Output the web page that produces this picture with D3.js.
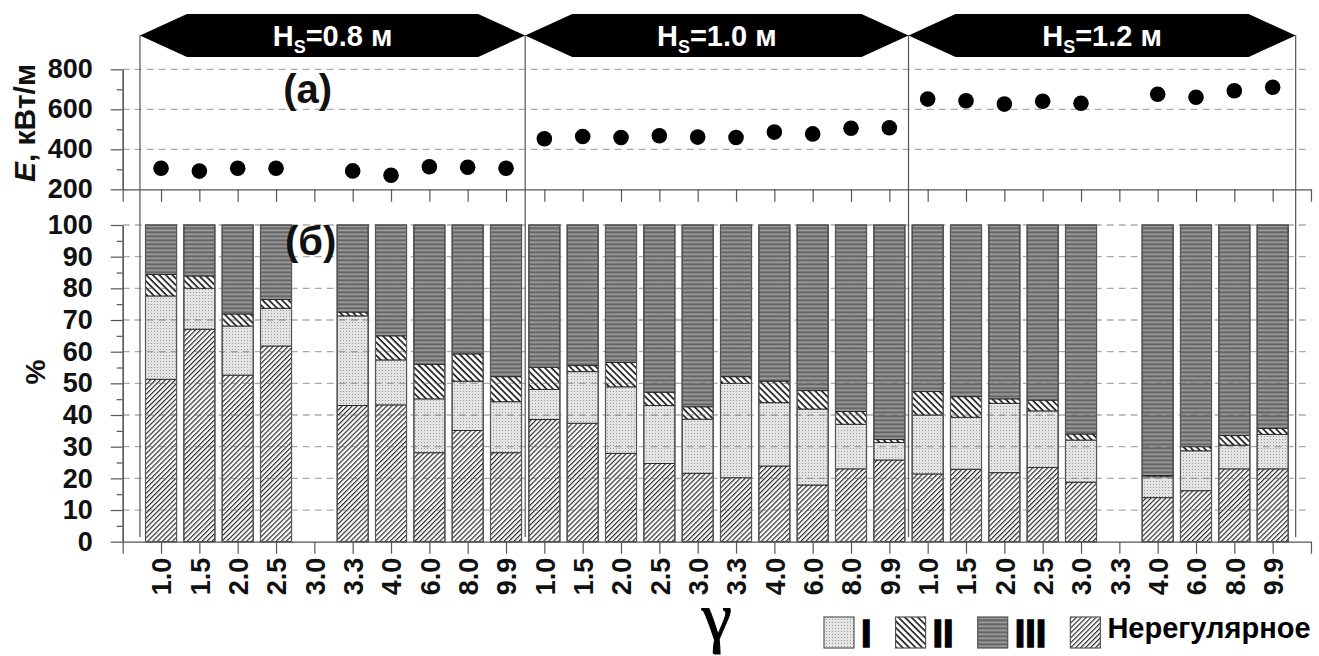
<!DOCTYPE html>
<html>
<head>
<meta charset="utf-8">
<script src="https://cdn.jsdelivr.net/npm/d3@7"></script>
<style>
  body { margin: 0; background: #fff; }
  svg text { font-family: "Liberation Sans", Arial, sans-serif; font-weight: bold; }
</style>
</head>
<body>
<svg id="chart" width="1319" height="656"></svg>
<script>
// gamma values inside every wave-height group
var gammaLabels = ["1.0", "1.5", "2.0", "2.5", "3.0", "3.3", "4.0", "6.0", "8.0", "9.9"];
var waveHeights = ["0.8", "1.0", "1.2"];

// (a) wave power, kW/m (null = no run)
var energy = [
    305, 291, 305, 305, null, 292, 270, 313, 310, 305,
    453, 464, 459, 468, 461, 459, 486, 477, 505, 508,
    651, 643, 626, 640, 630, null, 675, 660, 693, 710
];

// (б) share of breaker types, %
var irregularPct = [
    51.3, 67.1, 52.6, 61.8, null, 43.0, 43.2, 28.1, 35.1, 28.1,
    38.6, 37.4, 27.9, 24.7, 21.6, 20.2, 23.9, 17.9, 23.0, 25.8,
    21.4, 22.9, 21.8, 23.4, 18.8, null, 13.9, 16.1, 23.0, 23.0
];
var typeIPct = [
    26.3, 12.9, 15.5, 11.9, null, 28.3, 14.2, 17.0, 15.6, 16.1,
    9.5, 16.3, 21.0, 18.3, 17.1, 29.8, 20.0, 24.0, 14.1, 5.5,
    18.6, 16.4, 21.9, 17.9, 13.3, null, 6.6, 12.6, 7.5, 10.9
];
var typeIIPct = [
    6.8, 3.9, 3.8, 2.8, null, 1.2, 7.6, 10.9, 8.6, 7.9,
    7.0, 1.9, 7.7, 4.2, 3.9, 2.1, 6.8, 5.8, 4.0, 1.0,
    7.4, 6.5, 1.4, 3.4, 1.9, null, 0.4, 1.3, 3.0, 1.9
];
var typeIIIPct = [
    15.6, 16.1, 28.1, 23.5, null, 27.5, 35.0, 44.0, 40.7, 47.9,
    44.9, 44.4, 43.4, 52.8, 57.4, 47.9, 49.3, 52.3, 58.9, 67.7,
    52.6, 54.2, 54.9, 55.3, 66.0, null, 79.1, 70.0, 66.5, 64.2
];

var energyTicks = [200, 400, 600, 800];
var energyMinor = [300, 500, 700];
var pctTicks = [0, 10, 20, 30, 40, 50, 60, 70, 80, 90, 100];
var pctMinor = [5, 15, 25, 35, 45, 55, 65, 75, 85, 95];
var legendLabels = ["I", "II", "III", "Нерегулярное"];

var svg = d3.select("#chart");
var n = gammaLabels.length * waveHeights.length;

// scales
var xLin = d3.scaleLinear().domain([-1, n]).range([122.7, 1311]);
var xBand = d3.scaleBand().domain(d3.range(n))
    .range([xLin(-0.5), xLin(n - 0.5)])
    .paddingInner(0.19).paddingOuter(0.095);
var yE = d3.scaleLinear().domain([200, 800]).range([189.3, 69.3]);
var yP = d3.scaleLinear().domain([0, 100]).range([541.7, 225]);

// fill patterns
var defs = svg.append("defs");

var pIrr = defs.append("pattern").attr("id", "hatchIrr")
    .attr("patternUnits", "userSpaceOnUse").attr("width", 3.5).attr("height", 3.5)
    .attr("patternTransform", "rotate(45)");
pIrr.append("rect").attr("width", 3.5).attr("height", 3.5).attr("fill", "#fff");
pIrr.append("line").attr("x1", 0.6).attr("x2", 0.6).attr("y1", 0).attr("y2", 3.5)
    .attr("stroke", "#1a1a1a").attr("stroke-width", 1.1);

var pII = defs.append("pattern").attr("id", "hatchII")
    .attr("patternUnits", "userSpaceOnUse").attr("width", 4.6).attr("height", 4.6)
    .attr("patternTransform", "rotate(-45)");
pII.append("rect").attr("width", 4.6).attr("height", 4.6).attr("fill", "#fff");
pII.append("line").attr("x1", 1).attr("x2", 1).attr("y1", 0).attr("y2", 4.6)
    .attr("stroke", "#111").attr("stroke-width", 1.6);

var pI = defs.append("pattern").attr("id", "dotsI")
    .attr("patternUnits", "userSpaceOnUse").attr("width", 3).attr("height", 3);
pI.append("rect").attr("width", 3).attr("height", 3).attr("fill", "#e4e4e4");
pI.append("rect").attr("x", 1).attr("y", 1).attr("width", 1).attr("height", 1).attr("fill", "#999");

var pIII = defs.append("pattern").attr("id", "stripesIII")
    .attr("patternUnits", "userSpaceOnUse").attr("width", 4).attr("height", 4);
["#666", "#868686", "#999", "#777"].forEach(function (c, k) {
    pIII.append("rect").attr("x", 0).attr("y", k).attr("width", 4).attr("height", 1).attr("fill", c);
});

var fills = { irr: "url(#hatchIrr)", I: "url(#dotsI)", II: "url(#hatchII)", III: "url(#stripesIII)" };

// group separators (vertical lines) and banners
var sepX = [xLin(-0.55), xLin(9.5), xLin(19.5), xLin(29.6)];
svg.append("g").selectAll("line").data(sepX).enter().append("line")
    .attr("x1", function (d) { return d; }).attr("x2", function (d) { return d; })
    .attr("y1", 35).attr("y2", 537)
    .attr("stroke", "#555").attr("stroke-width", 1.2);

var notch = 47;
var banners = svg.append("g").selectAll("g").data(waveHeights).enter().append("g");
banners.append("polygon")
    .attr("points", function (d, i) {
        var a = sepX[i], b = sepX[i + 1];
        return [[a, 35.5], [a + notch, 14], [b - notch, 14], [b, 35.5], [b - notch, 57], [a + notch, 57]].join(" ");
    })
    .attr("fill", "#000");
var bText = banners.append("text")
    .attr("x", function (d, i) { return (sepX[i] + sepX[i + 1]) / 2; })
    .attr("y", 46)
    .attr("text-anchor", "middle")
    .attr("fill", "#fff")
    .style("font-size", "29px");
bText.append("tspan").text("H");
bText.append("tspan").attr("dy", 7).style("font-size", "18px").text("S");
bText.append("tspan").attr("dy", -7).text(function (d) { return "=" + d + " м"; });

// gridlines
var grid = svg.append("g");

// stacked bars
var rows = d3.range(n).map(function (i) {
    return { idx: i, irr: irregularPct[i] || 0, I: typeIPct[i] || 0, II: typeIIPct[i] || 0, III: typeIIIPct[i] || 0 };
});
var series = d3.stack().keys(["irr", "I", "II", "III"])(rows);
var present = rows.filter(function (r) { return irregularPct[r.idx] != null; });

series.forEach(function (s) {
    svg.append("g").selectAll("rect")
        .data(s.filter(function (d) { return irregularPct[d.data.idx] != null && d[1] > d[0]; }))
        .enter().append("rect")
        .attr("x", function (d) { return xBand(d.data.idx); })
        .attr("width", xBand.bandwidth())
        .attr("y", function (d) { return yP(d[1]); })
        .attr("height", function (d) { return yP(d[0]) - yP(d[1]); })
        .attr("fill", fills[s.key])
        .attr("stroke", "#222").attr("stroke-width", 0.9);
});
svg.append("g").selectAll("rect").data(present).enter().append("rect")
    .attr("x", function (d) { return xBand(d.idx); })
    .attr("width", xBand.bandwidth())
    .attr("y", yP(100))
    .attr("height", yP(0) - yP(100))
    .attr("fill", "none").attr("stroke", "#555").attr("stroke-width", 1.2);

// dashed gridlines drawn over the bars
grid.raise();
grid.selectAll("line.e").data(energyTicks.slice(1)).enter().append("line")
    .attr("x1", xLin(-1)).attr("x2", xLin(n))
    .attr("y1", function (d) { return yE(d); }).attr("y2", function (d) { return yE(d); });
grid.selectAll("line.p").data(pctTicks.slice(1)).enter().append("line")
    .attr("x1", xLin(-1)).attr("x2", xLin(n))
    .attr("y1", function (d) { return yP(d); }).attr("y2", function (d) { return yP(d); });
grid.selectAll("line").attr("stroke", "#666").attr("stroke-opacity", 0.55)
    .attr("stroke-width", 1.3).attr("stroke-dasharray", "7,5");

// (a) energy dots
svg.append("g").selectAll("circle")
    .data(d3.range(n).filter(function (i) { return energy[i] != null; }))
    .enter().append("circle")
    .attr("cx", function (i) { return xLin(i); })
    .attr("cy", function (i) { return yE(energy[i]); })
    .attr("r", 7.8)
    .attr("fill", "#000");

// axes
function styleAxis(g) {
    g.attr("font-family", null).attr("font-size", null);
    g.selectAll("path, line").attr("stroke", "#555").attr("stroke-width", 1.2);
    g.selectAll("text").attr("fill", "#111").style("font-size", "27px");
}

svg.append("g").attr("transform", "translate(" + xLin(-1) + ",0)")
    .call(d3.axisLeft(yE).tickValues(energyTicks).tickSize(12).tickSizeOuter(0).tickPadding(18))
    .call(styleAxis);
svg.append("g").attr("transform", "translate(" + xLin(-1) + ",0)")
    .call(d3.axisLeft(yE).tickValues(energyMinor).tickSize(6).tickSizeOuter(0).tickFormat(""))
    .call(styleAxis);
svg.append("g").attr("transform", "translate(0," + yE(200) + ")")
    .call(d3.axisBottom(xLin).tickValues(d3.range(-1, n + 1)).tickSize(12.5).tickSizeOuter(0).tickFormat(""))
    .call(styleAxis);

svg.append("g").attr("transform", "translate(" + xLin(-1) + ",0)")
    .call(d3.axisLeft(yP).tickValues(pctTicks).tickSize(12).tickSizeOuter(0).tickPadding(18))
    .call(styleAxis);
svg.append("g").attr("transform", "translate(" + xLin(-1) + ",0)")
    .call(d3.axisLeft(yP).tickValues(pctMinor).tickSize(6).tickSizeOuter(0).tickFormat(""))
    .call(styleAxis);
var xAxis = svg.append("g").attr("transform", "translate(0," + yP(0) + ")")
    .call(d3.axisBottom(xLin).tickValues(d3.range(-1, n + 1)).tickSize(12).tickSizeOuter(0)
        .tickFormat(function (i) { return i >= 0 && i < n ? gammaLabels[i % gammaLabels.length] : ""; }))
    .call(styleAxis);
xAxis.selectAll("text")
    .attr("transform", "rotate(-90)")
    .attr("text-anchor", "end")
    .attr("x", -16).attr("y", 0).attr("dy", "0.36em")
    .style("font-size", "27px");

// axis titles
var eTitle = svg.append("text")
    .attr("transform", "translate(35,123) rotate(-90)")
    .attr("text-anchor", "middle")
    .style("font-size", "30px").attr("fill", "#111");
eTitle.append("tspan").style("font-style", "italic").text("E");
eTitle.append("tspan").text(", кВт/м");

svg.append("text")
    .attr("transform", "translate(45,372) rotate(-90)")
    .attr("text-anchor", "middle")
    .style("font-size", "28px").attr("fill", "#111")
    .text("%");

svg.append("text").attr("x", xLin(-1) + 185).attr("y", 103)
    .attr("text-anchor", "middle").style("font-size", "40px").attr("fill", "#111")
    .text("(а)");
svg.append("text").attr("x", xLin(-1) + 188).attr("y", 255)
    .attr("text-anchor", "middle").style("font-size", "40px").attr("fill", "#111")
    .text("(б)");

svg.append("text").attr("x", xLin(14.5)).attr("y", 640)
    .attr("text-anchor", "middle")
    .style("font-family", "'Liberation Serif', 'Times New Roman', serif")
    .style("font-weight", "normal")
    .style("font-size", "68px").attr("fill", "#000")
    .attr("stroke", "#000").attr("stroke-width", 1)
    .text("γ");

// legend
var legendFills = [fills.I, fills.II, fills.III, fills.irr];
var lx = 824;
legendLabels.forEach(function (lab, k) {
    var g = svg.append("g");
    g.append("rect").attr("x", lx).attr("y", 617).attr("width", 30).attr("height", 31)
        .attr("fill", legendFills[k]).attr("stroke", "#555").attr("stroke-width", 1.2);
    var t = g.append("text").attr("x", lx + 37).attr("fill", "#000").text(lab);
    if (k < 3) {
        t.attr("y", 647).style("font-size", "38px").attr("stroke", "#000").attr("stroke-width", 1.4);
    } else {
        t.attr("y", 638).style("font-size", "29px");
    }
    lx = lx + 37 + t.node().getComputedTextLength() + 24;
});
</script>
</body>
</html>
